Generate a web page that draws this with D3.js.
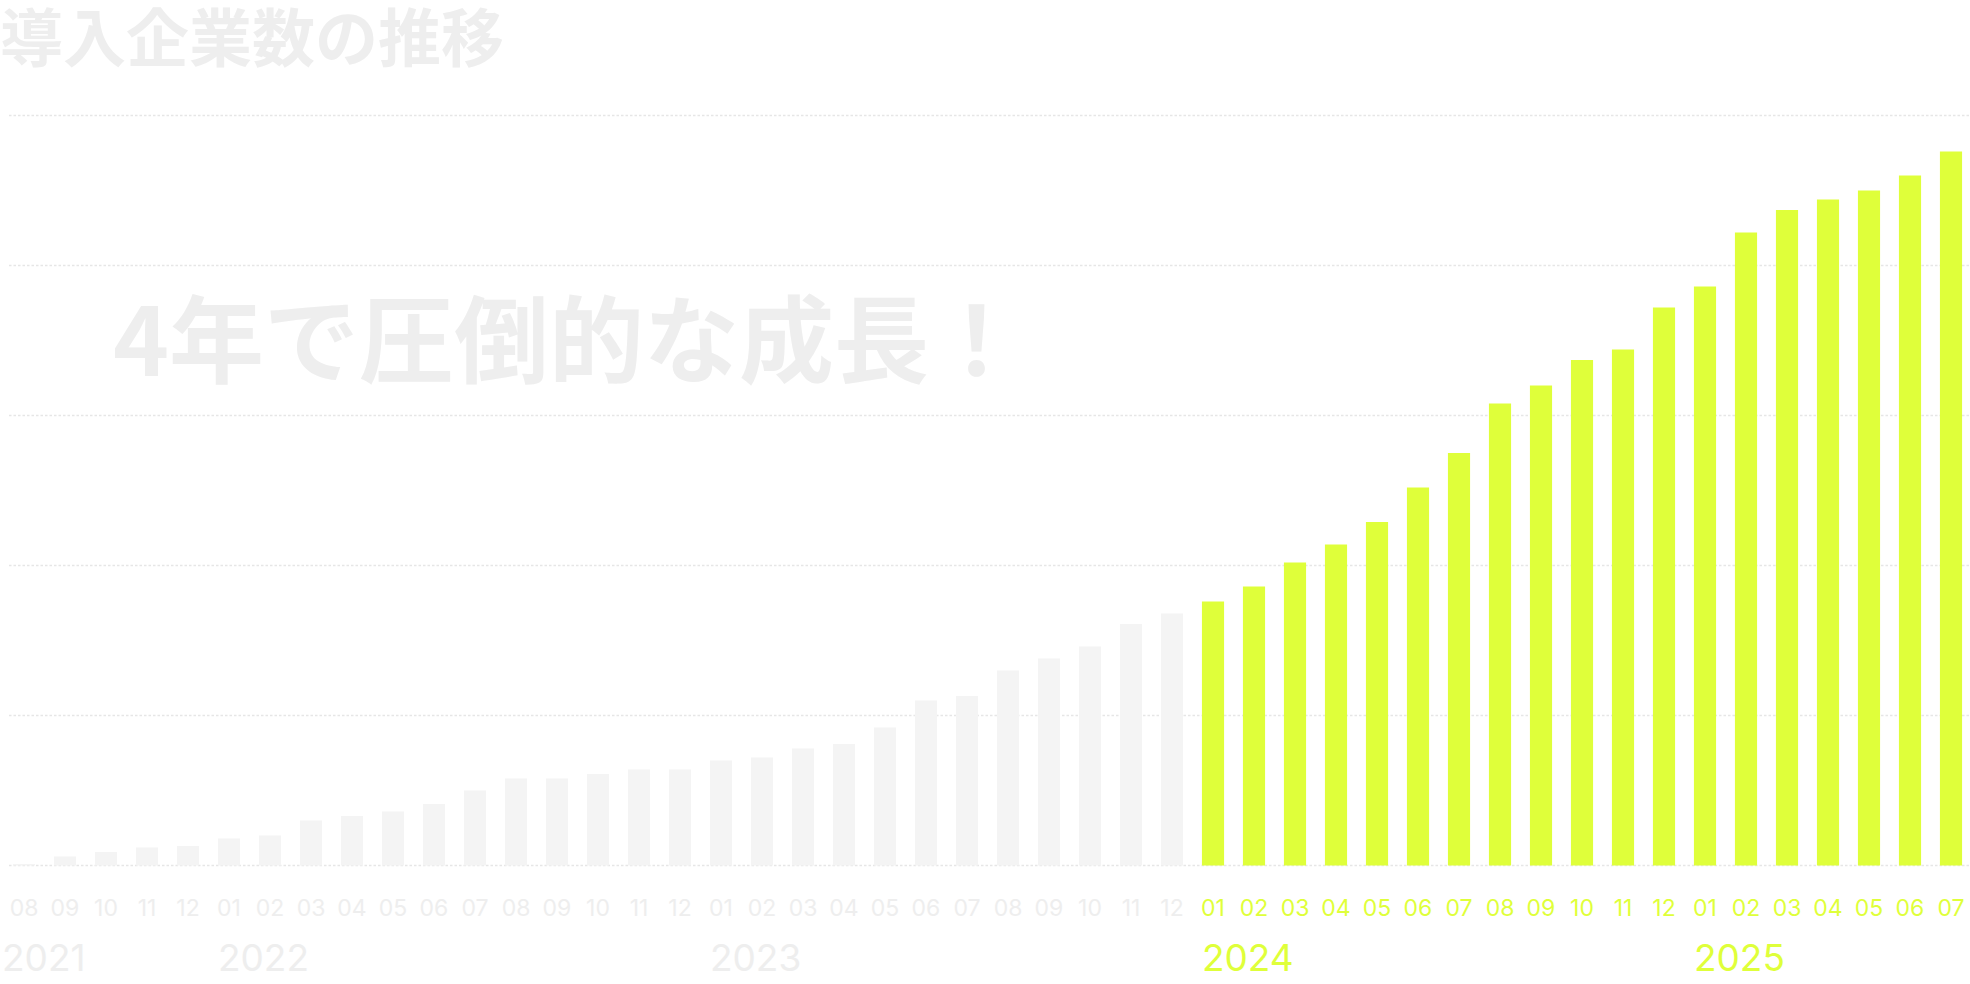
<!DOCTYPE html>
<html lang="ja">
<head>
<meta charset="utf-8">
<title>導入企業数の推移</title>
<script src="https://cdn.jsdelivr.net/npm/d3@7"></script>
<style>
  html, body { margin: 0; padding: 0; background: #fff; }
  #chart { width: 1970px; height: 984px; }
</style>
</head>
<body>
<div id="chart"></div>
<script>
// months shown on the axis, 2021-08 .. 2025-07
const years = [2021, 2022, 2023, 2024, 2025];
const monthsPerYear = [
  ['08', '09', '10', '11', '12'],
  ['01', '02', '03', '04', '05', '06', '07', '08', '09', '10', '11', '12'],
  ['01', '02', '03', '04', '05', '06', '07', '08', '09', '10', '11', '12'],
  ['01', '02', '03', '04', '05', '06', '07', '08', '09', '10', '11', '12'],
  ['01', '02', '03', '04', '05', '06', '07']
];
// number of companies (grid step = 100)
const companies = [
  1, 6, 9, 12, 13,
  18, 20, 30, 33, 36, 41, 50, 58, 58, 61, 64, 64,
  70, 72, 78, 81, 92, 110, 113, 130, 138, 146, 161, 168,
  176, 186, 202, 214, 229, 252, 275, 308, 320, 337, 344, 372,
  386, 422, 437, 444, 450, 460, 476
];
const gridTicks = [0, 100, 200, 300, 400, 500];
const highlightFrom = 2024;

const title = '導入企業数の推移';
const headline = '4年で圧倒的な成長！';

// colours
const greyBar = '#f4f4f4';
const greyText = '#eeeeee';
const limeColor = '#dfff3a';
const gridColor = '#e6e6e6';

const width = 1970;
const height = 984;

const months = years.flatMap((year, i) =>
  monthsPerYear[i].map(m => ({ key: `${year}-${m}`, year, month: m }))
);
const data = months.map((d, i) => ({ ...d, value: companies[i] }));

const svg = d3.select('#chart')
  .append('svg')
  .attr('width', width)
  .attr('height', height)
  .attr('viewBox', `0 0 ${width} ${height}`);

const x = d3.scaleBand()
  .domain(data.map(d => d.key))
  .range([3.5, 1971.5])
  .paddingInner(0.46)
  .paddingOuter(0.23);

const y = d3.scaleLinear()
  .domain([0, 500])
  .range([865.5, 115.5]);

// dotted grid
svg.append('g')
  .attr('class', 'grid')
  .selectAll('line')
  .data(gridTicks)
  .join('line')
  .attr('x1', 9)
  .attr('x2', width)
  .attr('y1', d => y(d))
  .attr('y2', d => y(d))
  .attr('stroke', gridColor)
  .attr('stroke-width', 1.5)
  .attr('stroke-dasharray', '2.5 2');

// headings
svg.append('text')
  .attr('x', 0)
  .attr('y', 61)
  .style('font-family', '"Noto Sans CJK JP", "Noto Sans", sans-serif')
  .style('font-weight', 700)
  .style('font-size', '63px')
  .attr('fill', greyText)
  .text(title);

svg.append('text')
  .attr('x', 113)
  .attr('y', 376)
  .style('font-family', '"Noto Sans CJK JP", "Noto Sans", sans-serif')
  .style('font-weight', 700)
  .style('font-size', '95px')
  .attr('fill', greyText)
  .text(headline);

// bars
svg.append('g')
  .attr('class', 'bars')
  .selectAll('rect')
  .data(data)
  .join('rect')
  .attr('x', d => x(d.key))
  .attr('width', x.bandwidth())
  .attr('y', d => y(d.value))
  .attr('height', d => y(0) - y(d.value))
  .attr('fill', d => (d.year >= highlightFrom ? limeColor : greyBar));

// month labels
svg.append('g')
  .attr('class', 'month-labels')
  .selectAll('text')
  .data(data)
  .join('text')
  .attr('x', d => x(d.key) + x.bandwidth() / 2)
  .attr('y', 916)
  .attr('text-anchor', 'middle')
  .style('font-family', 'Inter, Lato, sans-serif')
  .style('font-size', '23px')
  .attr('fill', d => (d.year >= highlightFrom ? limeColor : greyText))
  .text(d => d.month);

// year labels, placed where January of that year sits
const step = x.step();
svg.append('g')
  .attr('class', 'year-labels')
  .selectAll('text')
  .data(years.map((year, i) => ({ year, first: monthsPerYear[i][0], key: `${year}-${monthsPerYear[i][0]}` })))
  .join('text')
  .attr('x', d => Math.max(2, x(d.key) - (+d.first - 1) * step))
  .attr('y', 971)
  .style('font-family', 'Inter, Lato, sans-serif')
  .style('font-size', '37px')
  .attr('fill', d => (d.year >= highlightFrom ? limeColor : greyText))
  .text(d => d.year);
</script>
</body>
</html>
